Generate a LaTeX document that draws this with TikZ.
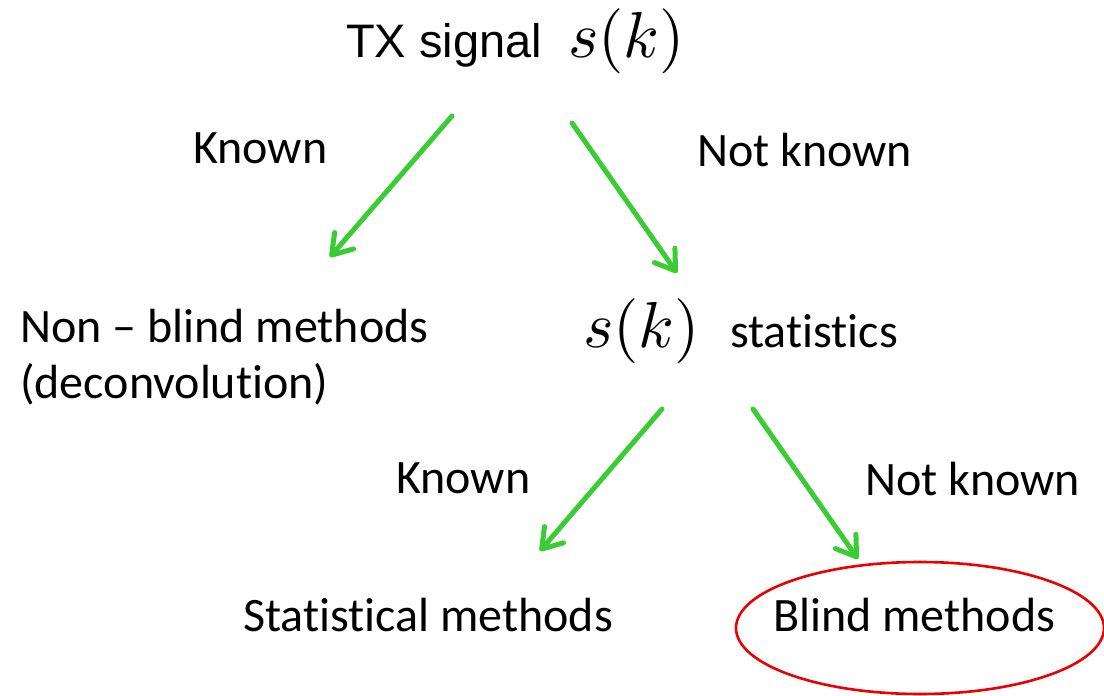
\documentclass[tikz,border=0pt]{standalone}
\usepackage{graphicx}
\usepackage{fontspec}
\setmainfont{Carlito}[Ligatures=CommonOff]
\newfontfamily\arialfont{Liberation Sans}
\usetikzlibrary{arrows.meta}
\definecolor{arrgreen}{RGB}{58,204,52}
\definecolor{ringred}{RGB}{235,0,0}
\newcommand{\bigmath}[1]{\scalebox{6.5}{$#1$}}
\tikzset{
  lbl/.style={anchor=base west, inner sep=0pt, font=\fontsize{48}{56}\selectfont},
  mth/.style={anchor=base west, inner sep=0pt},
  flow/.style={draw=arrgreen, line width=5pt, line cap=round,
    -{Straight Barb[length=19pt,width=25pt,round]}},
  ring/.style={draw=ringred, line width=2.6pt}
}
\begin{document}
\begin{tikzpicture}[x=1pt,y=-1pt]
\useasboundingbox (0,0) rectangle (1104,696);
% top
\node[lbl, font=\fontsize{47}{56}\selectfont\arialfont] (tx) at (346,57) {TX signal};
\node[mth] (sk1) at (568,57) {\bigmath{s(k)}};
% first level labels
\node[lbl] (known1) at (193,163) {Known};
\node[lbl] (notknown1) at (697,166) {Not known};
% second level
\node[lbl, align=left, anchor=north west, font=\fontsize{48}{56}\selectfont] (nonblind) at (20,309) {Non -- blind methods\\(deconvolution)};
\node[mth] (sk2) at (583,347) {\bigmath{s(k)}};
\node[lbl] (stats) at (730,347) {statistics};
% third level labels
\node[lbl] (known2) at (396,493) {Known};
\node[lbl] (notknown2) at (865,495) {Not known};
% bottom
\node[lbl] (statm) at (243,631) {Statistical methods};
\node[lbl] (blind) at (773,631) {Blind methods};
% connectors
\coordinate (a1s) at (452,116);
\coordinate (a1e) at (330,257);
\coordinate (a2s) at (572,123);
\coordinate (a2e) at (677,273);
\coordinate (a3s) at (662,409);
\coordinate (a3e) at (540,551);
\coordinate (a4s) at (753,409);
\coordinate (a4e) at (858,559);
\draw[flow] (a1s) -- (a1e);
\draw[flow] (a2s) -- (a2e);
\draw[flow] (a3s) -- (a3e);
\draw[flow] (a4s) -- (a4e);
% ellipse round blind methods
\draw[ring] (920,628) ellipse [x radius=184, y radius=66];
\end{tikzpicture}
\end{document}
